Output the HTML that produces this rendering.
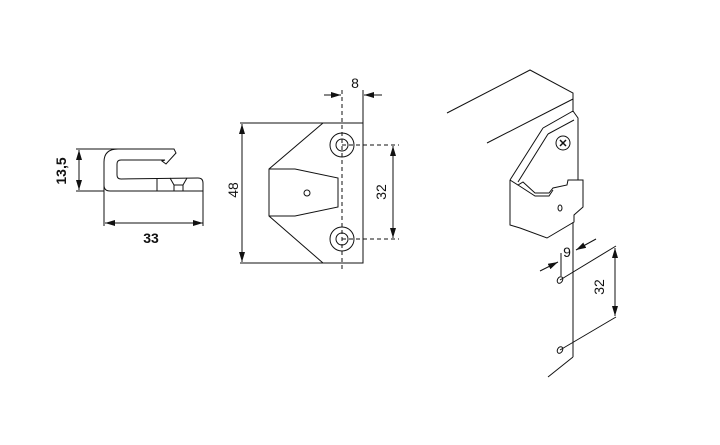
<!DOCTYPE html>
<html><head><style>html,body{margin:0;padding:0;background:#fff}svg{display:block}</style></head><body>
<svg width="720" height="445" viewBox="0 0 720 445" xmlns="http://www.w3.org/2000/svg" fill="none" stroke="#111" stroke-width="1" font-family="Liberation Sans, sans-serif">
<defs><marker id="a" markerWidth="10" markerHeight="6" refX="10" refY="3" orient="auto" markerUnits="userSpaceOnUse"><path d="M0,0L10,3L0,6Z" fill="#111" stroke="none"/></marker></defs>
<!-- left part -->
<line x1="76" y1="149" x2="118" y2="149"/><line x1="76" y1="191" x2="104" y2="191"/>
<line x1="79" y1="160" x2="79" y2="150" marker-end="url(#a)"/><line x1="79" y1="180" x2="79" y2="190" marker-end="url(#a)"/><line x1="79" y1="158" x2="79" y2="182"/>
<text x="0" y="0" transform="translate(66,171) rotate(-90)" font-size="14" font-weight="bold" fill="#111" stroke="none" text-anchor="middle">13,5</text>
<path d="M104,191 L104,162 Q104,149 118,149 L174,149 L176,153 L166,164 L162,161 L165,160 L121,160 Q117,160 117,164 L117,175 Q117,179 121,179 L198,178 Q203,178 203,183 L203,191 L110,191 Q104,191 104,185"/>
<path d="M157,178 L157,191 M170,178 L174,185 L183,185 L187,178 M174,185 L174,191 M183,185 L183,191"/>
<line x1="104" y1="191" x2="104" y2="226"/><line x1="203" y1="191" x2="203" y2="226"/>
<line x1="105" y1="223" x2="125" y2="223"/><line x1="115" y1="223" x2="105" y2="223" marker-end="url(#a)"/><line x1="120" y1="223" x2="203" y2="223" marker-end="url(#a)"/>
<text x="151" y="243" font-size="14" font-weight="bold" fill="#111" stroke="none" text-anchor="middle">33</text>
<!-- middle plate -->
<path d="M240,123 L363,123 L363,263 L240,263 M363,123 L363,90"/>
<line x1="242" y1="135" x2="242" y2="124" marker-end="url(#a)"/><line x1="242" y1="250" x2="242" y2="262" marker-end="url(#a)"/><line x1="242" y1="130" x2="242" y2="255"/>
<text x="0" y="0" transform="translate(238,190) rotate(-90)" font-size="14" fill="#111" stroke="none" text-anchor="middle">48</text>
<path d="M323,123 L269,169 L269,216 L323,263"/>
<path d="M269,169 L295,169 L338,178 L338,207 L295,216 L269,216"/>
<circle cx="307" cy="193" r="3"/>
<circle cx="342" cy="145" r="12"/><circle cx="342" cy="145" r="6"/>
<circle cx="342" cy="239" r="12"/><circle cx="342" cy="239" r="6"/>
<g stroke-dasharray="4,3"><line x1="342" y1="90" x2="342" y2="270"/><line x1="342" y1="145" x2="399" y2="145"/><line x1="342" y1="239" x2="399" y2="239"/></g>
<line x1="393" y1="160" x2="393" y2="146" marker-end="url(#a)"/><line x1="393" y1="225" x2="393" y2="238" marker-end="url(#a)"/><line x1="393" y1="155" x2="393" y2="230"/>
<text x="0" y="0" transform="translate(386,192) rotate(-90)" font-size="14" fill="#111" stroke="none" text-anchor="middle">32</text>
<line x1="324" y1="95" x2="341" y2="95" marker-end="url(#a)"/><line x1="382" y1="95" x2="364" y2="95" marker-end="url(#a)"/>
<text x="355" y="88" font-size="14" fill="#111" stroke="none" text-anchor="middle">8</text>
<!-- right part -->
<path d="M447,113 L530,70 L573,93 L573,112 M487,143 L573,99"/>
<path d="M543,128 L573,111 L578,118 L578,180 M548,134 L574,120 M543,128 L510,180 M548,134 L518,182"/>
<circle cx="563" cy="143" r="7"/><path d="M560,140 L566,146 M566,140 L560,146" stroke-width="1.5"/>
<path d="M510,180 L510,225 L520,228 L547,238 L574,222 L574,215 L583,207 L583,180 L568,180 L567,185 L553,188 L549,193 L535,193 L523,182 L518,185 L510,180"/>
<path d="M518,185 L535,196 L549,196 L553,190"/>
<ellipse cx="560" cy="208" rx="2" ry="3"/>
<path d="M573,222 L573,357 M548,377 L573,357"/>
<ellipse cx="560" cy="280" rx="2.5" ry="3.5" transform="rotate(30 560 280)"/>
<ellipse cx="560" cy="350" rx="2.5" ry="3.5" transform="rotate(30 560 350)"/>
<line x1="560" y1="280" x2="616" y2="246"/><line x1="560" y1="350" x2="616" y2="317"/>
<line x1="615" y1="262" x2="615" y2="248" marker-end="url(#a)"/><line x1="615" y1="302" x2="615" y2="316" marker-end="url(#a)"/><line x1="615" y1="255" x2="615" y2="310"/>
<text x="0" y="0" transform="translate(604,287) rotate(-90)" font-size="14" fill="#111" stroke="none" text-anchor="middle">32</text>
<line x1="561" y1="253" x2="561" y2="276"/>
<line x1="540" y1="271" x2="558" y2="262" marker-end="url(#a)"/><line x1="596" y1="239" x2="576" y2="250" marker-end="url(#a)"/>
<text x="567" y="257" font-size="14" fill="#111" stroke="none" text-anchor="middle">9</text>
</svg>
</body></html>
